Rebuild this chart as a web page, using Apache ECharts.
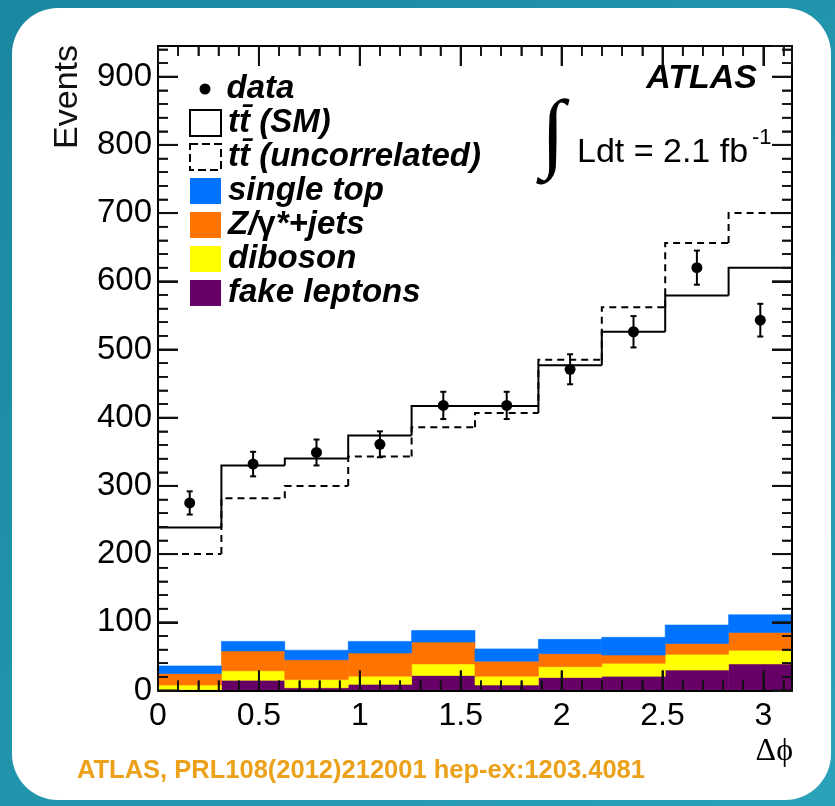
<!DOCTYPE html>
<html>
<head>
<meta charset="utf-8">
<script src="https://cdn.jsdelivr.net/npm/echarts@6/dist/echarts.min.js"></script>
<style>
  html, body { margin: 0; padding: 0; }
  body {
    width: 835px; height: 806px; overflow: hidden; position: relative;
    background: linear-gradient(135deg, #1a87a0 0%, #2296ad 55%, #2ba2b9 100%);
  }
  #card {
    position: absolute; left: 12px; top: 8px; width: 819px; height: 792px;
    background: #fff; border-radius: 46px;
  }
  #chart { position: absolute; left: 0; top: 0; width: 835px; height: 806px; }
</style>
</head>
<body>
<div id="card"></div>
<div id="chart"></div>
<script>
// Delta-phi between the two leptons, 10 bins over [0, pi]
const nBins = 10;
const binEdges = Array.from({ length: nBins + 1 }, (_, i) => i * Math.PI / nBins);

// Observed events and their uncertainties
const dataCounts = [275, 332, 349, 361, 418, 418, 471, 526, 620, 543];
const dataErrors = [17, 18, 19, 19, 20, 20, 22, 23, 25, 24];

// ttbar predictions (with backgrounds)
const ttSM = [239, 330, 340, 374, 417, 417, 477, 526, 579, 620];
const ttUncorrelated = [200, 282, 300, 343, 386, 407, 485, 562, 656, 700];

// Background components, stacked bottom to top
const fakeLeptons = [1, 15, 4, 9, 22, 8, 19, 21, 30, 39];
const diboson = [7, 14, 12, 12, 17, 13, 16, 19, 23, 20];
const zJets = [17, 29, 29, 34, 32, 22, 19, 12, 16, 26];
const singleTop = [11, 14, 14, 17, 17, 18, 21, 26, 27, 26];

// Tick positions
const xMajorTicks = [0, 0.5, 1, 1.5, 2, 2.5, 3];
const xMinorTicks = [0.1, 0.2, 0.3, 0.4, 0.6, 0.7, 0.8, 0.9, 1.1, 1.2, 1.3, 1.4, 1.6, 1.7, 1.8, 1.9,
  2.1, 2.2, 2.3, 2.4, 2.6, 2.7, 2.8, 2.9, 3.1];
const yMajorTicks = [0, 100, 200, 300, 400, 500, 600, 700, 800, 900];
const yMinorTicks = [20, 40, 60, 80, 120, 140, 160, 180, 220, 240, 260, 280, 320, 340, 360, 380,
  420, 440, 460, 480, 520, 540, 560, 580, 620, 640, 660, 680, 720, 740, 760, 780,
  820, 840, 860, 880, 920, 940];

const FONT = 'Liberation Sans, Arial, sans-serif';
const X_MAX = Math.PI;
const Y_MAX = 945;
const MAJOR_LEN = 20;
const MINOR_LEN = 10;

// [x0, x1, lower, upper] rows for one stacked component
function stackRows(component, below) {
  return component.map((v, i) => {
    const base = below.reduce((s, arr) => s + arr[i], 0);
    return [binEdges[i], binEdges[i + 1], base, base + v];
  });
}
// [x0, x1, value, previousValue] rows for a step outline
function stepRows(values) {
  return values.map((v, i) => [binEdges[i], binEdges[i + 1], v, i === 0 ? v : values[i - 1]]);
}

function renderStackRect(params, api) {
  const p0 = api.coord([api.value(0), api.value(3)]);
  const p1 = api.coord([api.value(1), api.value(2)]);
  const color = api.visual('color');
  return {
    type: 'rect',
    shape: { x: p0[0], y: p0[1], width: p1[0] - p0[0], height: p1[1] - p0[1] },
    style: { fill: color, stroke: color, lineWidth: 0.6 }
  };
}

function makeStepRenderer(dash) {
  return function (params, api) {
    const a = api.coord([api.value(0), api.value(3)]);
    const b = api.coord([api.value(0), api.value(2)]);
    const c = api.coord([api.value(1), api.value(2)]);
    return {
      type: 'polyline',
      shape: { points: [a, b, c] },
      style: { stroke: '#000', lineWidth: 2, fill: null, lineDash: dash }
    };
  };
}

function renderErrorBar(params, api) {
  const x = api.value(0), v = api.value(1), e = api.value(2);
  const lo = api.coord([x, v - e]);
  const hi = api.coord([x, v + e]);
  const cap = 3;
  const st = { stroke: '#000', lineWidth: 2 };
  return {
    type: 'group',
    children: [
      { type: 'line', shape: { x1: lo[0], y1: lo[1], x2: hi[0], y2: hi[1] }, style: st },
      { type: 'line', shape: { x1: lo[0] - cap, y1: lo[1], x2: lo[0] + cap, y2: lo[1] }, style: st },
      { type: 'line', shape: { x1: hi[0] - cap, y1: hi[1], x2: hi[0] + cap, y2: hi[1] }, style: st }
    ]
  };
}

// Inward frame ticks on all four sides: rows are [x, y, direction, isMajor]
// direction: 0 = up from bottom, 1 = down from top, 2 = right from left, 3 = left from right
function tickRows() {
  const rows = [];
  [[xMajorTicks, 1], [xMinorTicks, 0]].forEach(([ticks, major]) => ticks.forEach(t => {
    rows.push([t, 0, 0, major]);
    rows.push([t, Y_MAX, 1, major]);
  }));
  [[yMajorTicks, 1], [yMinorTicks, 0]].forEach(([ticks, major]) => ticks.forEach(t => {
    rows.push([0, t, 2, major]);
    rows.push([X_MAX, t, 3, major]);
  }));
  return rows;
}
function renderTick(params, api) {
  const p = api.coord([api.value(0), api.value(1)]);
  const dir = api.value(2);
  const major = api.value(3) === 1;
  const len = major ? MAJOR_LEN : MINOR_LEN;
  const d = [[0, -len], [0, len], [len, 0], [-len, 0]][dir];
  return {
    type: 'group',
    children: [{
      type: 'line',
      shape: { x1: p[0], y1: p[1], x2: p[0] + d[0], y2: p[1] + d[1] },
      style: { stroke: '#111', lineWidth: major ? 2 : 1.6 }
    }]
  };
}

const binCenters = binEdges.slice(0, nBins).map((e, i) => (e + binEdges[i + 1]) / 2);

// One axis drawing either the long (major) or the short (minor) inward ticks
function axisDef(kind, position, max, step, length, showLabel, showLine) {
  return {
    type: 'value', position: position, min: 0, max: max, interval: step, z: 10,
    splitLine: { show: false },
    axisLine: { show: showLine, onZero: false, lineStyle: { color: '#000', width: 2 } },
    axisTick: { show: true, inside: true, length: length,
      lineStyle: { color: '#111', width: length > 12 ? 2 : 1.6 } },
    axisLabel: showLabel ? {
      show: true, showMaxLabel: false, margin: kind === 'x' ? 10 : 6,
      fontSize: kind === 'x' ? 32 : 33, fontFamily: FONT, color: '#000'
    } : { show: false }
  };
}

const legendText = {
  fontFamily: FONT, fontWeight: 'bold', fontStyle: 'italic', fontSize: 33,
  color: '#000', lineHeight: 34,
  rich: { g: { fontFamily: FONT, fontWeight: 'bold', fontStyle: 'normal', fontSize: 33, color: '#000' } }
};

const option = {
  animation: false,
  grid: { left: 158, right: 43, top: 46, bottom: 115.5, show: false },
  xAxis: [
    axisDef('x', 'bottom', X_MAX, 0.5, MAJOR_LEN, true, true),
    axisDef('x', 'bottom', X_MAX, 0.1, MINOR_LEN, false, false),
    axisDef('x', 'top', X_MAX, 0.5, MAJOR_LEN, false, true),
    axisDef('x', 'top', X_MAX, 0.1, MINOR_LEN, false, false)
  ],
  yAxis: [
    axisDef('y', 'left', Y_MAX, 100, MAJOR_LEN, true, true),
    axisDef('y', 'left', Y_MAX, 20, MINOR_LEN, false, false),
    axisDef('y', 'right', Y_MAX, 100, MAJOR_LEN, false, true),
    axisDef('y', 'right', Y_MAX, 20, MINOR_LEN, false, false)
  ],
  legend: [
    {
      left: 194.5, top: 67, orient: 'vertical', selectedMode: false,
      itemWidth: 11, itemHeight: 11, itemGap: 0,
      textStyle: Object.assign({}, legendText, { padding: [0, 0, 0, 11] }),
      data: [{ name: 'data', icon: 'circle', itemStyle: { color: '#000', opacity: 1 } }]
    },
    {
      left: 184, top: 101, orient: 'vertical', selectedMode: false,
      itemWidth: 31, itemHeight: 26, itemGap: 0,
      textStyle: Object.assign({}, legendText, { padding: [0, 0, 0, 2] }),
      formatter: function (name) {
        return name === 'Z/\u03b3*+jets' ? 'Z/{g|\u03b3}*+jets' : name;
      },
      data: [
        { name: 'tt\u0304 (SM)', icon: 'rect',
          itemStyle: { color: '#fff', borderColor: '#000', borderWidth: 2 } },
        { name: 'tt\u0304 (uncorrelated)', icon: 'rect',
          itemStyle: { color: '#fff', borderColor: '#000', borderWidth: 2, borderType: 'dashed' } },
        { name: 'single top', icon: 'rect' },
        { name: 'Z/\u03b3*+jets', icon: 'rect' },
        { name: 'diboson', icon: 'rect' },
        { name: 'fake leptons', icon: 'rect' }
      ]
    }
  ],
  graphic: [
    { type: 'text', x: 757, y: 79, z: 20,
      style: { text: 'ATLAS', fontFamily: FONT, fontWeight: 'bold', fontStyle: 'italic',
        fontSize: 34, fill: '#000', align: 'right', verticalAlign: 'middle' } },
    { type: 'text', x: 553, y: 138, z: 20,
      style: { text: '\u222b', fontFamily: 'Liberation Serif, DejaVu Serif, serif', fontSize: 88,
        fill: '#000', align: 'center', verticalAlign: 'middle' } },
    { type: 'text', x: 577, y: 153, z: 20,
      style: { text: 'Ldt = 2.1 fb', fontFamily: FONT, fontSize: 34, fill: '#000',
        align: 'left', verticalAlign: 'middle' } },
    { type: 'text', x: 752, y: 138, z: 20,
      style: { text: '-1', fontFamily: FONT, fontSize: 22, fill: '#000',
        align: 'left', verticalAlign: 'middle' } },
    { type: 'text', x: 68, y: 45, rotation: Math.PI / 2, z: 20,
      style: { text: 'Events', fontFamily: FONT, fontSize: 34, fill: '#111',
        align: 'right', verticalAlign: 'middle' } },
    { type: 'text', x: 793, y: 752, z: 20,
      style: { text: '\u0394\u03d5', fontFamily: 'Liberation Serif, serif', fontSize: 32,
        fill: '#000', align: 'right', verticalAlign: 'middle' } },
    { type: 'text', x: 77, y: 771, z: 20,
      style: { text: 'ATLAS, PRL108(2012)212001 hep-ex:1203.4081', fontFamily: FONT,
        fontWeight: 'bold', fontSize: 25.5, fill: '#eba11a',
        align: 'left', verticalAlign: 'middle' } }
  ],
  series: [
    { name: 'fake leptons', type: 'custom', z: 2, renderItem: renderStackRect,
      itemStyle: { color: '#660066' }, encode: { x: [0, 1], y: [2, 3] },
      data: stackRows(fakeLeptons, []) },
    { name: 'diboson', type: 'custom', z: 2, renderItem: renderStackRect,
      itemStyle: { color: '#ffff00' }, encode: { x: [0, 1], y: [2, 3] },
      data: stackRows(diboson, [fakeLeptons]) },
    { name: 'Z/\u03b3*+jets', type: 'custom', z: 2, renderItem: renderStackRect,
      itemStyle: { color: '#ff7300' }, encode: { x: [0, 1], y: [2, 3] },
      data: stackRows(zJets, [fakeLeptons, diboson]) },
    { name: 'single top', type: 'custom', z: 2, renderItem: renderStackRect,
      itemStyle: { color: '#0073ff' }, encode: { x: [0, 1], y: [2, 3] },
      data: stackRows(singleTop, [fakeLeptons, diboson, zJets]) },
    { name: 'tt\u0304 (uncorrelated)', type: 'custom', z: 3, renderItem: makeStepRenderer([7, 5]),
      itemStyle: { color: '#000' }, encode: { x: [0, 1], y: [2, 3] },
      data: stepRows(ttUncorrelated) },
    { name: 'tt\u0304 (SM)', type: 'custom', z: 3, renderItem: makeStepRenderer(null),
      itemStyle: { color: '#000' }, encode: { x: [0, 1], y: [2, 3] },
      data: stepRows(ttSM) },
    { name: 'data-errors', type: 'custom', z: 4, renderItem: renderErrorBar,
      encode: { x: 0, y: 1 },
      data: binCenters.map((c, i) => [c, dataCounts[i], dataErrors[i]]) },
    { name: 'data', type: 'scatter', z: 5, symbol: 'circle', symbolSize: 11,
      itemStyle: { color: '#000', opacity: 1 },
      data: binCenters.map((c, i) => [c, dataCounts[i]]) },
    { name: 'frame-ticks', type: 'custom', z: 8, renderItem: renderTick,
      encode: { x: 0, y: 1 },
      data: tickRows() }
  ]
};

const chart = echarts.init(document.getElementById('chart'));
chart.setOption(option);
</script>
</body>
</html>
